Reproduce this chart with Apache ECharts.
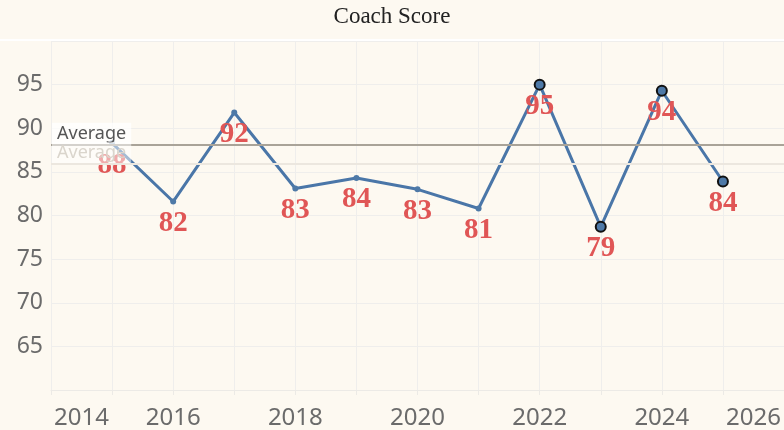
<!DOCTYPE html>
<html>
<head>
<meta charset="utf-8">
<script src="https://cdn.jsdelivr.net/npm/echarts@6/dist/echarts.min.js"></script>
<style>
html,body{margin:0;padding:0;background:#FDF9F1;}
#c{width:784px;height:430px;}
</style>
</head>
<body>
<div id="c"></div>
<script>
// ---- data ----
const years = [2015, 2016, 2017, 2018, 2019, 2020, 2021, 2022, 2023, 2024, 2025];
const scores = [88.3, 81.6, 91.8, 83.1, 84.3, 83.0, 80.8, 95.0, 78.7, 94.3, 83.9];
const highlightFrom = 2022;
const referenceLines = [88.1, 85.9];   // dark, faint
const referenceLabel = 'Average';
const titleText = 'Coach Score';

const chart = echarts.init(document.getElementById('c'));

const pts = years.map((y, i) => {
  const hi = y >= highlightFrom;
  return {
    value: [y, scores[i]],
    symbolSize: hi ? 10 : 6,
    itemStyle: hi ? { color: '#4E79A7', borderColor: '#111', borderWidth: 2 }
                  : { color: '#4E79A7', borderWidth: 0 }
  };
});
const hiddenPts = years.map((y, i) => [y, scores[i]]);

const lineStyles = [
  { color: '#A9A398', width: 2, type: 'solid' },
  { color: '#ECE7DF', width: 2, type: 'solid' }
];
const labelStyles = [
  { color: '#555', backgroundColor: 'rgba(255,255,255,0.75)' },
  { color: '#DAD5CC', backgroundColor: 'rgba(255,255,255,0.5)' }
];

chart.setOption({
  backgroundColor: '#FDF9F1',
  animation: false,
  title: {
    text: titleText,
    left: 'center',
    top: 0,
    textStyle: { fontFamily: 'Liberation Serif', fontSize: 23, fontWeight: 'normal', color: '#222' }
  },
  graphic: [{
    type: 'rect', shape: { x: 0, y: 39, width: 784, height: 2 },
    style: { fill: '#FFFFFF' }, z: 0, silent: true
  }],
  grid: { left: 51, right: 0, top: 41, bottom: 39, containLabel: false },
  xAxis: {
    type: 'value', min: 2014, max: 2026, interval: 1,
    axisLine: { show: true, lineStyle: { color: '#ECEAE6', width: 1 } },
    axisTick: { show: true, length: 5, lineStyle: { color: '#ECEAE6' } },
    splitLine: { show: true, lineStyle: { color: '#EFEEEC', width: 1 } },
    axisLabel: {
      formatter: v => (v % 2 === 0 ? String(v) : ''),
      fontFamily: 'Noto Sans', fontSize: 24, color: '#6B6B6B', margin: 16,
      alignMinLabel: 'left', alignMaxLabel: 'right',
      padding: [0, 3, 0, 3]
    }
  },
  yAxis: {
    type: 'value', min: 60, max: 100, interval: 5,
    axisLine: { show: false }, axisTick: { show: false },
    splitLine: { show: true, lineStyle: { color: '#EFEEEC', width: 1 } },
    axisLabel: {
      formatter: v => (v > 60 && v < 100 ? String(v) : ''),
      fontFamily: 'Noto Sans', fontSize: 23, color: '#6B6B6B', margin: 8
    }
  },
  series: [
    {
      type: 'line', z: 1, data: hiddenPts, silent: true,
      showSymbol: false, lineStyle: { opacity: 0 }, label: { show: false },
      markLine: {
        silent: true, symbol: 'none', animation: false,
        data: referenceLines.map((v, i) => ({ yAxis: v, lineStyle: lineStyles[i], label: { show: false } }))
      }
    },
    {
      type: 'line', z: 3,
      data: pts,
      showAllSymbol: true,
      symbol: 'circle',
      lineStyle: { color: '#4A76A8', width: 3 },
      label: {
        show: true, position: 'inside', offset: [0, 22],
        formatter: p => String(Math.round(p.value[1])),
        fontFamily: 'Liberation Serif', fontWeight: 'bold', fontSize: 29, color: '#E05656'
      }
    },
    {
      type: 'line', z: 5, data: hiddenPts, silent: true,
      showSymbol: false, lineStyle: { opacity: 0 }, label: { show: false },
      markLine: {
        silent: true, symbol: 'none', animation: false,
        data: referenceLines.map((v, i) => ({
          yAxis: v,
          lineStyle: { color: 'rgba(0,0,0,0)', width: 0, opacity: 1 },
          label: Object.assign({
            show: true, opacity: 1, position: 'insideStartTop', formatter: referenceLabel,
            fontFamily: 'Noto Sans', fontSize: 18, padding: [2, 5, 1, 5], distance: [1, 1]
          }, labelStyles[i])
        }))
      }
    }
  ]
});
</script>
</body>
</html>
